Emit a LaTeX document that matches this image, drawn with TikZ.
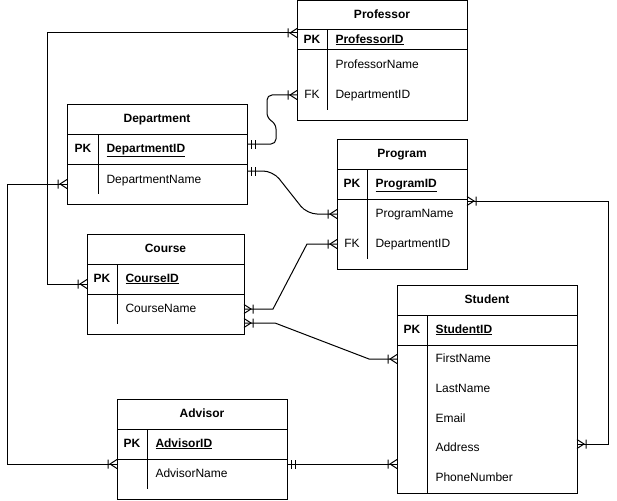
\documentclass[tikz,border=0pt]{standalone}
\usepackage{fontspec}
\setmainfont{Liberation Sans}

% crow's foot: one or many
\pgfdeclarearrow{
  name = crowfoot,
  setup code = {
    \pgfarrowssettipend{0pt}
    \pgfarrowssetlineend{0pt}
    \pgfarrowssetbackend{-9pt}
    \pgfarrowssetvisualbackend{-9pt}
    \pgfarrowsupperhullpoint{0pt}{4.5pt}
    \pgfarrowsupperhullpoint{-9pt}{4.5pt}
  },
  drawing code = {
    \pgfsetdash{}{0pt}
    \pgfpathmoveto{\pgfqpoint{0pt}{4.5pt}}
    \pgfpathlineto{\pgfqpoint{-7pt}{0pt}}
    \pgfpathlineto{\pgfqpoint{0pt}{-4.5pt}}
    \pgfpathmoveto{\pgfqpoint{-9pt}{4.5pt}}
    \pgfpathlineto{\pgfqpoint{-9pt}{-4.5pt}}
    \pgfusepathqstroke
  }
}
% two bars: one and only one
\pgfdeclarearrow{
  name = mandone,
  setup code = {
    \pgfarrowssettipend{0pt}
    \pgfarrowssetlineend{0pt}
    \pgfarrowssetbackend{-8pt}
    \pgfarrowssetvisualbackend{-8pt}
    \pgfarrowsupperhullpoint{0pt}{4.5pt}
    \pgfarrowsupperhullpoint{-8pt}{4.5pt}
  },
  drawing code = {
    \pgfsetdash{}{0pt}
    \pgfpathmoveto{\pgfqpoint{-4pt}{4.5pt}}
    \pgfpathlineto{\pgfqpoint{-4pt}{-4.5pt}}
    \pgfpathmoveto{\pgfqpoint{-8pt}{4.5pt}}
    \pgfpathlineto{\pgfqpoint{-8pt}{-4.5pt}}
    \pgfusepathqstroke
  }
}

\tikzset{
  tabhead/.style={draw, font=\bfseries, inner sep=0pt, outer sep=0pt, minimum height=30pt,
    text height=8.6pt, text depth=2.4pt, anchor=north west},
  tabrow/.style={draw, inner sep=0pt, outer sep=0pt, minimum height=30pt, anchor=north},
  keytag/.style={inner sep=0pt, font=\bfseries, text height=8.6pt, text depth=2.4pt},
  field/.style={inner sep=0pt, text height=8.6pt, text depth=2.4pt, anchor=west},
}

\begin{document}
\fontsize{12pt}{14pt}\selectfont
\begin{tikzpicture}[x=1pt, y=-1pt, line width=1pt]
\useasboundingbox (0,0) rectangle (617,500);

% Professor
\node[tabhead, minimum width=170pt, minimum height=29pt] (prof) at (297,1) {Professor};
\node[tabrow, minimum width=170pt, minimum height=20pt] (prof-pk) at (prof.south) {};
\node[tabrow, minimum width=170pt, minimum height=70pt] (prof-attr) at (prof-pk.south) {};
\draw (327,30) -- (327,110);
\node[keytag] (prof-pk-tag) at (312,40) {PK};
\node[field] (prof-id) at (335,40) {\bfseries\underline{ProfessorID}};
\node[field] (prof-name) at (335,65) {ProfessorName};
\node[keytag, font=\mdseries] (prof-fk-tag) at (312,95) {FK};
\node[field] (prof-dept) at (335,95) {DepartmentID};

% Department
\node[tabhead, minimum width=180pt] (dept) at (67,104) {Department};
\node[tabrow, minimum width=180pt] (dept-pk) at (dept.south) {};
\node[tabrow, minimum width=180pt, minimum height=40pt] (dept-attr) at (dept-pk.south) {};
\draw (98,134) -- (98,194);
\node[keytag] (dept-pk-tag) at (83,149) {PK};
\node[field] (dept-id) at (106,149) {\bfseries\underline{DepartmentID}};
\node[field] (dept-name) at (106,180) {DepartmentName};

% Program
\node[tabhead, minimum width=130pt] (prog) at (337,139) {Program};
\node[tabrow, minimum width=130pt] (prog-pk) at (prog.south) {};
\node[tabrow, minimum width=130pt, minimum height=70pt] (prog-attr) at (prog-pk.south) {};
\draw (367,169) -- (367,259);
\node[keytag] (prog-pk-tag) at (352,184) {PK};
\node[field] (prog-id) at (375,184) {\bfseries\underline{ProgramID}};
\node[field] (prog-name) at (375,214) {ProgramName};
\node[keytag, font=\mdseries] (prog-fk-tag) at (352,244) {FK};
\node[field] (prog-dept) at (375,244) {DepartmentID};

% Course
\node[tabhead, minimum width=157pt] (crs) at (87,234) {Course};
\node[tabrow, minimum width=157pt] (crs-pk) at (crs.south) {};
\node[tabrow, minimum width=157pt, minimum height=40pt] (crs-attr) at (crs-pk.south) {};
\draw (117,264) -- (117,324);
\node[keytag] (crs-pk-tag) at (102,279) {PK};
\node[field] (crs-id) at (125,279) {\bfseries\underline{CourseID}};
\node[field] (crs-name) at (125,309) {CourseName};

% Student
\node[tabhead, minimum width=180pt] (stu) at (397,285) {Student};
\node[tabrow, minimum width=180pt] (stu-pk) at (stu.south) {};
\node[tabrow, minimum width=180pt, minimum height=148pt] (stu-attr) at (stu-pk.south) {};
\draw (427,315) -- (427,493);
\node[keytag] (stu-pk-tag) at (412,330) {PK};
\node[field] (stu-id) at (435,330) {\bfseries\underline{StudentID}};
\node[field] (stu-first) at (435,359) {FirstName};
\node[field] (stu-last) at (435,389) {LastName};
\node[field] (stu-mail) at (435,419) {Email};
\node[field] (stu-addr) at (435,448) {Address};
\node[field] (stu-phone) at (435,478) {PhoneNumber};

% Advisor
\node[tabhead, minimum width=170pt] (adv) at (117,399) {Advisor};
\node[tabrow, minimum width=170pt] (adv-pk) at (adv.south) {};
\node[tabrow, minimum width=170pt, minimum height=40pt] (adv-attr) at (adv-pk.south) {};
\draw (147,429) -- (147,489);
\node[keytag] (adv-pk-tag) at (132,444) {PK};
\node[field] (adv-id) at (155,444) {\bfseries\underline{AdvisorID}};
\node[field] (adv-name) at (155,474) {AdvisorName};

% entry points on the table edges
\coordinate (prog-name-in) at (prog-attr.west |- prog-name);
\coordinate (prog-dept-in) at (prog-attr.west |- prog-dept);
\coordinate (stu-first-in) at (stu-attr.west |- stu-first);
\coordinate (stu-addr-out) at (stu-attr.east |- stu-addr);
\coordinate (adv-link) at ([yshift=-5pt]adv-attr.north east);

% relations
\draw[crowfoot-crowfoot] ([yshift=7pt]prof-pk.west) -- ++(-250,0) |- ([yshift=-5pt]crs-pk.west);
\draw[mandone-crowfoot, rounded corners=5pt] ([yshift=5pt]dept-pk.east) -- ++(29,0) -- ++(0,-20)
    -- ++(-9,-6) |- (prof-attr.west |- prof-dept);
\draw[mandone-crowfoot, rounded corners=10pt] ([yshift=-7pt]dept-attr.north east) -- ++(26,0)
    -- ([xshift=-30pt]prog-name-in) -- (prog-name-in);
\draw[crowfoot-crowfoot] (crs-attr.east |- crs-name) -- ++(29,0) -- ([xshift=-30pt]prog-dept-in) -- (prog-dept-in);
\draw[crowfoot-crowfoot] ([yshift=11pt]crs-attr.south east) -- ++(31,0) -- ([xshift=-28pt]stu-first-in) -- (stu-first-in);
\draw[mandone-crowfoot] (adv-link) -- (adv-link -| stu-attr.west);
\draw[crowfoot-crowfoot] ([yshift=-5pt]adv-attr.north west) -- ++(-110,0) |- (dept-attr.west);
\draw[crowfoot-crowfoot] ([yshift=-2pt]prog-attr.north east) -- ++(141,0) |- ([yshift=4pt]stu-addr-out);
\end{tikzpicture}
\end{document}
